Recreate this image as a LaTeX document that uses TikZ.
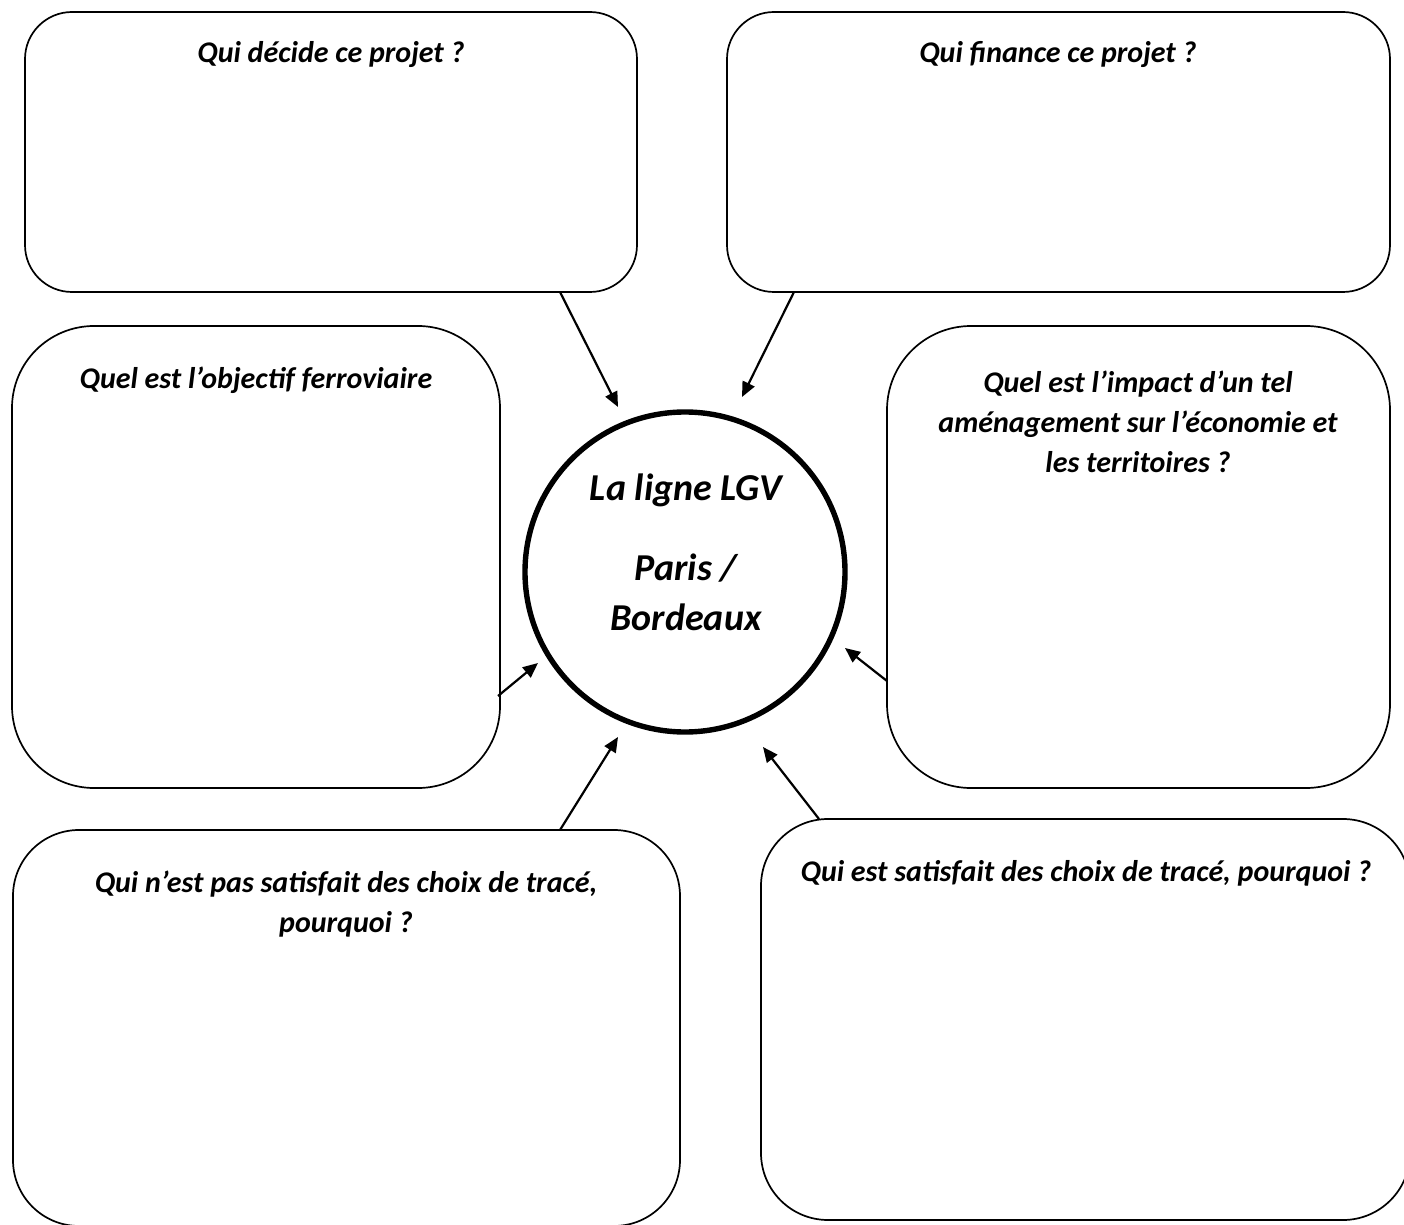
\documentclass[tikz,border=0pt]{standalone}
\usepackage{fontspec}
\setmainfont{Carlito}
\usetikzlibrary{arrows.meta}
\begin{document}
\begin{tikzpicture}[x=0.5pt,y=-0.5pt,
  qbox/.style={draw, line width=0.85pt, inner sep=0pt, outer sep=0pt, rectangle},
  qtext/.style={font=\fontsize{15}{20}\selectfont\bfseries\itshape, align=center, inner sep=0pt, anchor=north},
  arr/.style={line width=1.1pt, -{Triangle[length=7.5pt,width=6.5pt]}}]
\useasboundingbox (0,0) rectangle (1404,1225);
\fill[white] (0,0) rectangle (1404,1225);
% boxes
\node[qbox, rounded corners=23.5pt, minimum width=306pt, minimum height=140pt] (b1) at (331,152) {};
\node[qbox, rounded corners=23.5pt, minimum width=331.5pt, minimum height=140pt] (b2) at (1058.5,152) {};
\node[qbox, rounded corners=41pt, minimum width=244pt, minimum height=231pt] (b3) at (256,557) {};
\node[qbox, rounded corners=42pt, minimum width=251.5pt, minimum height=231pt] (b4) at (1138.5,557) {};
\node[qbox, rounded corners=33pt, minimum width=333.5pt, minimum height=198pt] (b5) at (346.5,1028) {};
\node[qbox, rounded corners=33.5pt, minimum width=324.5pt, minimum height=200.5pt] (b6) at (1085.5,1019.5) {};
% circle
\node[draw, circle, line width=2.7pt, minimum size=160pt, inner sep=0pt] (c) at (685,572) {};
% texts
\node[qtext] (t1) at (331,41) {Qui décide ce projet ?};
\node[qtext] (t2) at (1058,41) {Qui finance ce projet ?};
\node[qtext] (t3) at (256,366) {Quel est l’objectif ferroviaire};
\node[qtext] (t4) at (1138,370) {Quel est l’impact d’un tel\\aménagement sur l’économie et\\les territoires ?};
\node[qtext] (t5) at (346,870) {Qui n’est pas satisfait des choix de tracé,\\pourquoi ?};
\node[qtext] (t6) at (1086,860) {Qui est satisfait des choix de tracé, pourquoi ?};
\node[font=\fontsize{19}{25}\selectfont\bfseries\itshape, align=center, inner sep=0pt, anchor=north] (ct) at (686,473) {La ligne LGV\\[15pt]Paris /\\Bordeaux};
% arrow end points
\coordinate (s1) at (560,292); \coordinate (e1) at (618,407);
\coordinate (s2) at (794,292); \coordinate (e2) at (742,397);
\coordinate (s3) at (498,696); \coordinate (e3) at (538,663);
\coordinate (s4) at (887,681); \coordinate (e4) at (845,648);
\coordinate (s5) at (560,830); \coordinate (e5) at (618,737);
\coordinate (s6) at (819,819); \coordinate (e6) at (763,747);
\draw[arr] (s1) -- (e1);
\draw[arr] (s2) -- (e2);
\draw[arr] (s3) -- (e3);
\draw[arr] (s4) -- (e4);
\draw[arr] (s5) -- (e5);
\draw[arr] (s6) -- (e6);
\end{tikzpicture}
\end{document}
